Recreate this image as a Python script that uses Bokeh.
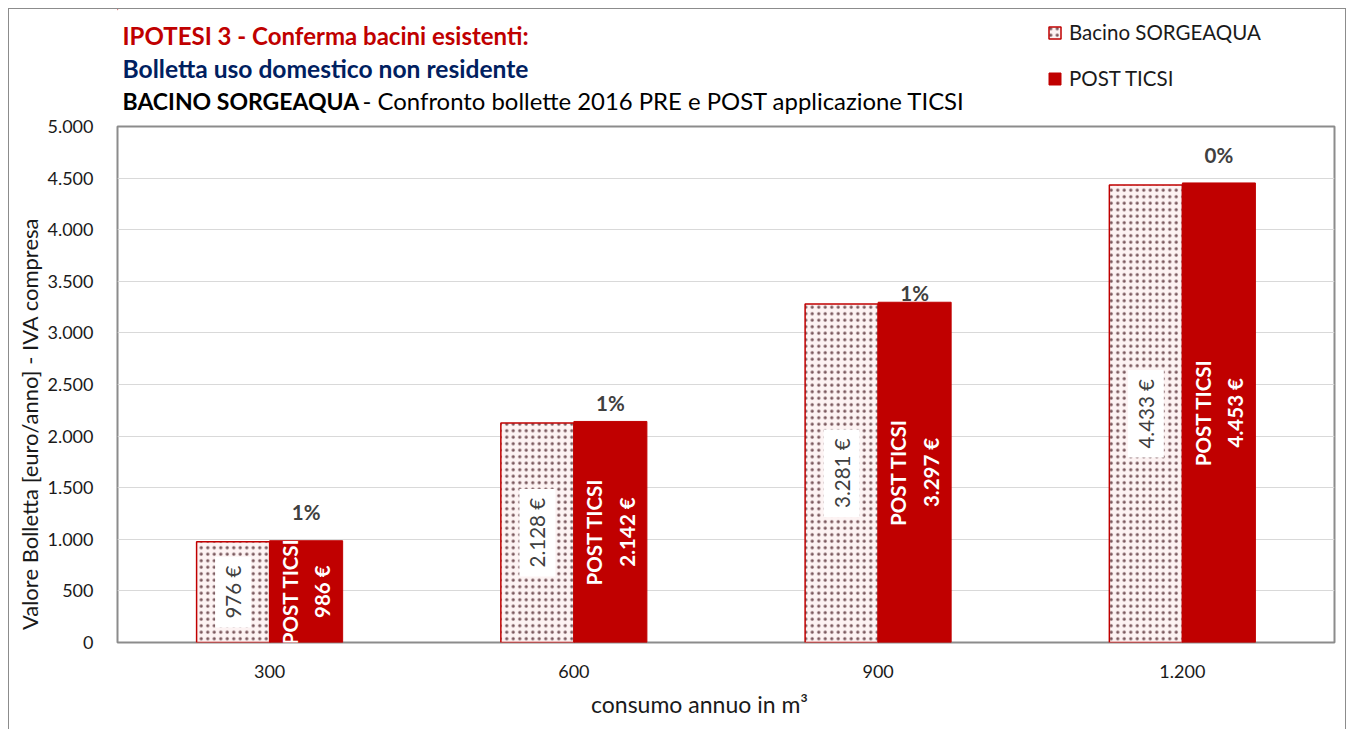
import math
from bokeh.plotting import figure
from bokeh.layouts import column
from bokeh.models import (ColumnDataSource, FactorRange, Range1d, FixedTicker,
                          CustomJSTickFormatter, Legend, LegendItem)
from bokeh.transform import dodge
from bokeh.core.properties import value
from bokeh.embed import file_html
from bokeh.resources import INLINE

# ---- data ----
categories = ["300", "600", "900", "1.200"]
pre_values = [976, 2128, 3281, 4433]
post_values = [986, 2142, 3297, 4453]
pct_labels = ["1%", "1%", "1%", "0%"]
pct_anchor = [1260, 2316, 3391, 4719]   # hidden label series (as in the original)
y_ticks = list(range(0, 5001, 500))

series_pre = "Bacino SORGEAQUA"
series_post = "POST TICSI"
title_1 = "IPOTESI 3 - Conferma bacini esistenti:"
title_2 = "Bolletta uso domestico non residente"
title_3_bold = "BACINO SORGEAQUA"
title_3_rest = "\u00a0- Confronto bollette 2016 PRE e POST applicazione TICSI"
y_title = "Valore Bolletta [euro/anno] - IVA compresa"
x_title = "consumo annuo in m\u00b3"


def it_num(v):
    return f"{v:,}".replace(",", ".")


pre_text = [f"{it_num(v)} \u20ac" for v in pre_values]
post_text = [f"{series_post}\n{it_num(v)} \u20ac" for v in post_values]

src = ColumnDataSource(dict(cat=categories, pre=pre_values, post=post_values,
                            pre_mid=[v / 2 for v in pre_values],
                            post_mid=[v / 2 for v in post_values],
                            pre_text=pre_text, post_text=post_text,
                            pct=pct_labels, pct_y=pct_anchor))

FONT = "Lato"
RED = "#C00000"
BORDER = "1px solid #8c8c8c"
PRE_STYLE = dict(fill_color="#FDF3F3", line_color=RED, line_width=1.5,
                 hatch_pattern="dot", hatch_color="#7a585d", hatch_scale=6.5,
                 hatch_weight=1.0)
POST_STYLE = dict(fill_color=RED, line_color=RED, line_width=1)
NBSP = "\u00a0"

W = 1338
FRAME_L, FRAME_R = 108, 13          # canvas px, shared by both figures
X0, X1 = 9 + FRAME_L, 9 + W - FRAME_R   # page px of the frame edges

# ---------------- header (titles + legend) ----------------
HH = 107
head = figure(width=W, height=HH, x_range=Range1d(X0, X1), y_range=Range1d(9 + HH, 9),
              output_backend="svg", toolbar_location=None,
              x_axis_location=None, y_axis_location=None,
              min_border_left=FRAME_L, min_border_right=FRAME_R,
              min_border_top=0, min_border_bottom=0)
head.xgrid.visible = False
head.ygrid.visible = False
head.outline_line_color = None
head.styles = {"border-left": BORDER, "border-top": BORDER, "border-right": BORDER}

head.text(x=[122], y=[35], text=[title_1], text_font=value(FONT), text_font_size="24px",
          text_font_style="bold", text_color=RED, text_baseline="middle")
head.text(x=[122], y=[68], text=[title_2], text_font=value(FONT), text_font_size="24.6px",
          text_font_style="bold", text_color="#002060", text_baseline="middle")
head.text(x=[122], y=[100], text=[title_3_bold], text_font=value(FONT), text_font_size="23px",
          text_font_style="bold", text_color="black", text_baseline="middle")
head.text(x=[356], y=[100], text=[title_3_rest], text_font=value(FONT), text_font_size="23.9px",
          text_color="black", text_baseline="middle")

# legend swatch renderers (kept outside the visible header area)
h_pre = head.vbar(x=[X0 - 50], top=[0], bottom=[1], width=1, **PRE_STYLE)
h_post = head.vbar(x=[X0 - 50], top=[0], bottom=[1], width=1, **POST_STYLE)
legend = Legend(items=[LegendItem(label=series_pre, renderers=[h_pre]),
                       LegendItem(label=series_post, renderers=[h_post])],
                location=(1047 - X0, 9 + HH - 90), orientation="vertical",
                label_text_font=FONT, label_text_font_size="20.5px",
                label_text_color="#1a1a1a", glyph_width=15, glyph_height=15,
                label_standoff=7, label_height=20, spacing=22, padding=0, margin=0,
                border_line_color=None, background_fill_alpha=0)
head.add_layout(legend)

# ---------------- main chart ----------------
p = figure(width=W, height=730 - 9 - HH, x_range=FactorRange(*categories, range_padding=0),
           y_range=Range1d(0, 5000), output_backend="svg", toolbar_location=None,
           min_border_left=FRAME_L, min_border_right=FRAME_R,
           min_border_top=127 - 9 - HH, min_border_bottom=87)
p.styles = {"border-left": BORDER, "border-right": BORDER}
p.outline_line_color = "#8c8c8c"
p.outline_line_width = 2

p.vbar(x=dodge("cat", -0.12, range=p.x_range), top="pre", width=0.24, source=src,
       **PRE_STYLE)
p.vbar(x=dodge("cat", 0.12, range=p.x_range), top="post", width=0.24, source=src,
       **POST_STYLE)

p.text(x=dodge("cat", -0.12, range=p.x_range), y="pre_mid", text="pre_text", source=src,
       angle=math.pi / 2, text_align="center", text_baseline="middle",
       text_font=value(FONT), text_font_size="20.5px", text_color="#404040",
       background_fill_color="white", padding=(9, 6))
p.text(x=dodge("cat", 0.12, range=p.x_range), y="post_mid", text="post_text", source=src,
       angle=math.pi / 2, text_align="center", text_baseline="middle",
       text_font=value(FONT), text_font_size="20.5px", text_font_style="bold",
       text_color="white", text_line_height=1.35)
p.text(x=dodge("cat", 0.12, range=p.x_range), y="pct_y", text="pct", source=src,
       text_align="center", text_baseline="middle",
       text_font=value(FONT), text_font_size="20.5px", text_font_style="bold",
       text_color="#404040")

p.yaxis.ticker = FixedTicker(ticks=y_ticks)
p.yaxis.formatter = CustomJSTickFormatter(
    code="return tick.toFixed(0).replace(/\\B(?=(\\d{3})+(?!\\d))/g, '.');")
for ax in (p.xaxis[0], p.yaxis[0]):
    ax.axis_line_color = None
    ax.major_tick_line_color = None
    ax.minor_tick_line_color = None
    ax.major_label_text_font = FONT
    ax.major_label_text_font_size = "18px"
    ax.major_label_text_color = "#1a1a1a"
    ax.axis_label_text_font = FONT
    ax.axis_label_text_font_style = "normal"
    ax.axis_label_text_color = "#1a1a1a"
p.yaxis.axis_label_text_font_size = "22px"
p.xaxis.axis_label_text_font_size = "23px"
p.yaxis.major_label_standoff = 18
p.xaxis.major_label_standoff = 16
p.yaxis.axis_label = y_title + NBSP * 14
p.xaxis.axis_label = x_title + NBSP * 9
p.yaxis.axis_label_standoff = 1
p.xaxis.axis_label_standoff = 9
p.xgrid.grid_line_color = None
p.ygrid.grid_line_color = "#D9D9D9"
p.ygrid.grid_line_width = 1

layout = column(head, p, spacing=0, styles={"margin-left": "8px", "margin-top": "8px"})
open("out.html", "w").write(file_html(layout, INLINE))
